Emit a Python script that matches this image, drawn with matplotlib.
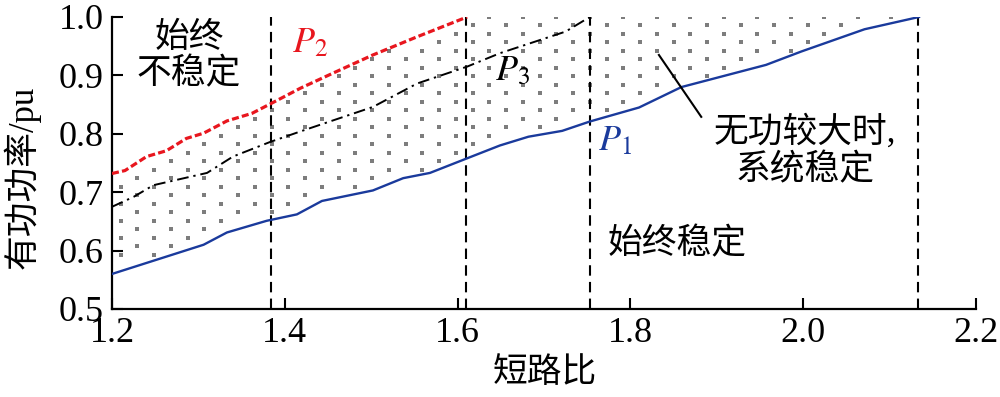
import matplotlib
matplotlib.use("Agg")
import matplotlib.pyplot as plt
import numpy as np

plt.rcParams['font.family'] = ['Liberation Serif', 'Noto Sans CJK SC', 'DejaVu Sans']
plt.rcParams['mathtext.fontset'] = 'stix'

# curve data (short-circuit ratio vs. active power, pu)
p1_x = [1.200, 1.306, 1.333, 1.379, 1.414, 1.443, 1.502, 1.537, 1.568, 1.611, 1.649,
        1.682, 1.721, 1.753, 1.810, 1.859, 1.957, 1.998, 2.071, 2.134]
p1_y = [0.560, 0.610, 0.631, 0.651, 0.662, 0.685, 0.703, 0.724, 0.733, 0.758, 0.780,
        0.795, 0.805, 0.821, 0.845, 0.880, 0.918, 0.941, 0.979, 1.000]

p2_x = [1.200, 1.215, 1.240, 1.263, 1.286, 1.306, 1.333, 1.362, 1.383, 1.418, 1.456,
        1.502, 1.553, 1.611]
p2_y = [0.732, 0.737, 0.761, 0.771, 0.792, 0.801, 0.822, 0.835, 0.851, 0.878, 0.904,
        0.935, 0.966, 1.000]

p3_x = [1.200, 1.225, 1.248, 1.310, 1.340, 1.383, 1.418, 1.502, 1.553, 1.611, 1.649,
        1.725, 1.753]
p3_y = [0.675, 0.692, 0.712, 0.733, 0.761, 0.786, 0.804, 0.846, 0.886, 0.915, 0.938,
        0.975, 1.000]

vline_x = [1.384, 1.610, 1.753, 2.133]

x_ticks = [1.2, 1.4, 1.6, 1.8, 2.0, 2.2]
y_ticks = [0.5, 0.6, 0.7, 0.8, 0.9, 1.0]

fig = plt.figure(figsize=(10, 3.97), dpi=100)
ax = fig.add_axes([0.112, 0.2217, 0.864, 0.7355])

# dotted region between P1 and the upper limit (P2, then 1.0)
dx, dy = 0.01939, 0.01455
gx = np.arange(1.2101, 2.14, dx)
gy = np.arange(1.0, 0.5, -dy)
GX, GY = np.meshgrid(gx, gy)
I, J = np.meshgrid(np.arange(len(gx)), np.arange(len(gy)))
lower = np.interp(GX, p1_x, p1_y)
upper = np.where(GX <= p2_x[-1], np.interp(GX, p2_x, p2_y), 1.0)
mask = ((I + J) % 2 == 0) & (GY > lower + 0.006) & (GY < upper - 0.004) & (GX < p1_x[-1])
mask |= ((I + J) % 2 == 0) & (np.abs(GY - 1.0) < 1e-6) & (GX > p2_x[-1]) & (GX < p1_x[-1])
ax.scatter(GX[mask], GY[mask], marker='s', s=6, color='#7d7d7d', linewidths=0, zorder=1)

ax.vlines(vline_x, 0.5, 1.0, colors='black', linestyles=(0, (5, 3)), linewidth=1.5, zorder=2)

ax.plot(p1_x, p1_y, color='#1a3a9c', linewidth=1.7, zorder=3)
ax.plot(p2_x, p2_y, color='#e8161e', linewidth=2.3, linestyle=(0, (2.2, 1.0)), zorder=3)
ax.plot(p3_x, p3_y, color='black', linewidth=1.4, linestyle=(0, (6, 2.5, 1.2, 2.5)), zorder=3)

ax.set_xlim(1.2, 2.2)
ax.set_ylim(0.5, 1.0)
ax.set_xticks(x_ticks)
ax.set_xticklabels(['%.1f' % v for v in x_ticks])
ax.set_yticks(y_ticks)
ax.set_yticklabels(['%.1f' % v for v in y_ticks])
ax.tick_params(direction='in', length=8, width=1.5, labelsize=26, pad=6)
for s in ['top', 'right']:
    ax.spines[s].set_visible(False)
for s in ['left', 'bottom']:
    ax.spines[s].set_linewidth(1.6)

ax.set_xlabel('短路比', fontsize=25)
ax.xaxis.set_label_coords(0.501, -0.165)
ax.set_ylabel('有功功率/pu', fontsize=25)
ax.yaxis.set_label_coords(-0.083, 0.45)

ax.text(1.289, 0.932, '始终\n不稳定', fontsize=25, ha='center', va='center', linespacing=1.15)
ax.text(1.854, 0.610, '始终稳定', fontsize=25, ha='center', va='center')
ax.text(2.002, 0.770, '无功较大时,\n系统稳定', fontsize=25, ha='center', va='center',
        linespacing=1.15)
ax.plot([1.833, 1.882], [0.935, 0.829], color='black', linewidth=1.5, zorder=4)

ax.text(1.408, 0.955, r'$P_2$', color='#e8161e', fontsize=26, ha='left', va='center')
ax.text(1.643, 0.906, r'$P_3$', color='black', fontsize=26, ha='left', va='center')
ax.text(1.763, 0.786, r'$P_1$', color='#1a3a9c', fontsize=26, ha='left', va='center')

fig.savefig('out.png', dpi=100)
